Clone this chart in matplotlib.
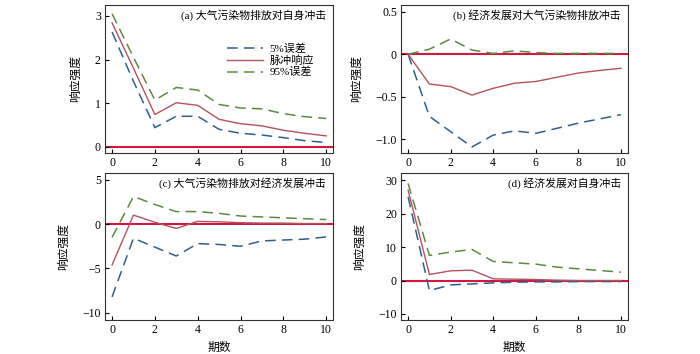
import numpy as np
import matplotlib.pyplot as plt

plt.rcParams['font.family'] = ['Liberation Serif', 'Noto Sans CJK SC']
plt.rcParams['mathtext.fontset'] = 'stix'

periods = np.arange(0, 11)

# (a) 大气污染物排放对自身冲击
a_low = [2.63, 1.50, 0.44, 0.70, 0.70, 0.40, 0.31, 0.27, 0.21, 0.14, 0.10]
a_mid = [2.84, 1.80, 0.74, 1.01, 0.95, 0.63, 0.53, 0.48, 0.38, 0.31, 0.25]
a_high = [3.05, 2.05, 1.07, 1.36, 1.30, 0.97, 0.89, 0.87, 0.76, 0.69, 0.65]

# (b) 经济发展对大气污染物排放冲击
b_low = [0.0, -0.73, -0.91, -1.09, -0.95, -0.90, -0.93, -0.87, -0.81, -0.76, -0.71]
b_mid = [0.0, -0.35, -0.38, -0.48, -0.40, -0.34, -0.32, -0.27, -0.22, -0.19, -0.165]
b_high = [0.0, 0.06, 0.18, 0.05, 0.01, 0.04, 0.02, 0.01, 0.01, 0.01, 0.01]

# (c) 大气污染物排放对经济发展冲击
c_low = [-8.2, -1.6, -2.6, -3.6, -2.2, -2.3, -2.5, -1.9, -1.8, -1.7, -1.45]
c_mid = [-4.6, 1.0, 0.2, -0.5, 0.3, 0.25, 0.15, 0.1, 0.1, 0.05, 0.05]
c_high = [-1.5, 3.1, 2.2, 1.4, 1.4, 1.2, 0.9, 0.8, 0.7, 0.6, 0.5]

# (d) 经济发展对自身冲击
d_low = [25.0, -3.0, -1.3, -1.0, -0.7, -0.5, -0.4, -0.4, -0.3, -0.3, -0.3]
d_mid = [27.0, 1.8, 2.9, 3.1, 0.5, 0.4, 0.3, 0.1, 0.0, 0.0, 0.0]
d_high = [29.0, 7.5, 8.5, 9.3, 5.7, 5.3, 4.9, 4.0, 3.5, 3.0, 2.5]

titles = ['(a) 大气污染物排放对自身冲击', '(b) 经济发展对大气污染物排放冲击',
          '(c) 大气污染物排放对经济发展冲击', '(d) 经济发展对自身冲击']
ylims = [(-0.14, 3.25), (-1.16, 0.58), (-10.8, 5.73), (-11.8, 32.1)]
yticks = [[0, 1, 2, 3], [-1.0, -0.5, 0, 0.5], [-10, -5, 0, 5], [-10, 0, 10, 20, 30]]
yticklabels = [['0', '1', '2', '3'], ['\u22121.0', '\u22120.5', '0', '0.5'],
               ['\u221210', '\u22125', '0', '5'], ['\u221210', '0', '10', '20', '30']]
series = [(a_low, a_mid, a_high), (b_low, b_mid, b_high),
          (c_low, c_mid, c_high), (d_low, d_mid, d_high)]

blue = '#2f5f8f'
red = '#b5525b'
green = '#5e8a3c'
zero = '#d3173f'

fig = plt.figure(figsize=(7, 3.54), dpi=100)
positions = [[0.150, 0.568, 0.326, 0.418], [0.573, 0.568, 0.324, 0.418],
             [0.150, 0.096, 0.326, 0.415], [0.573, 0.096, 0.324, 0.415]]

for i in range(4):
    ax = fig.add_axes(positions[i])
    low, mid, high = series[i]
    ax.axhline(0, color=zero, lw=1.5, zorder=1)
    ax.plot(periods, low, color=blue, lw=1.1, dashes=(7, 4), label='5%误差')
    ax.plot(periods, mid, color=red, lw=1.0, label='脉冲响应')
    ax.plot(periods, high, color=green, lw=1.1, dashes=(7, 4), label='95%误差')
    ax.set_xlim(-0.33, 10.33)
    ax.set_ylim(*ylims[i])
    ax.set_xticks([0, 2, 4, 6, 8, 10])
    ax.set_yticks(yticks[i])
    ax.set_yticklabels(yticklabels[i])
    ax.tick_params(direction='in', length=3, width=0.8, labelsize=8.5, pad=3)
    for s in ax.spines.values():
        s.set_linewidth(0.8)
        s.set_color('#333333')
    ax.text(0.97, 0.93, titles[i], transform=ax.transAxes, ha='right', va='center',
            fontsize=7.8)
    ax.set_ylabel('响应强度', fontsize=8.5, family=['Noto Sans CJK SC'], labelpad=9)
    if i >= 2:
        ax.set_xlabel('期数', fontsize=8.5, labelpad=4)
    if i == 0:
        ax.legend(loc='upper right', bbox_to_anchor=(0.95, 0.79), frameon=False,
                  fontsize=8, handlelength=3.2, handletextpad=0.6,
                  labelspacing=0.1, borderpad=0.2)

fig.savefig('out.png', dpi=100)
